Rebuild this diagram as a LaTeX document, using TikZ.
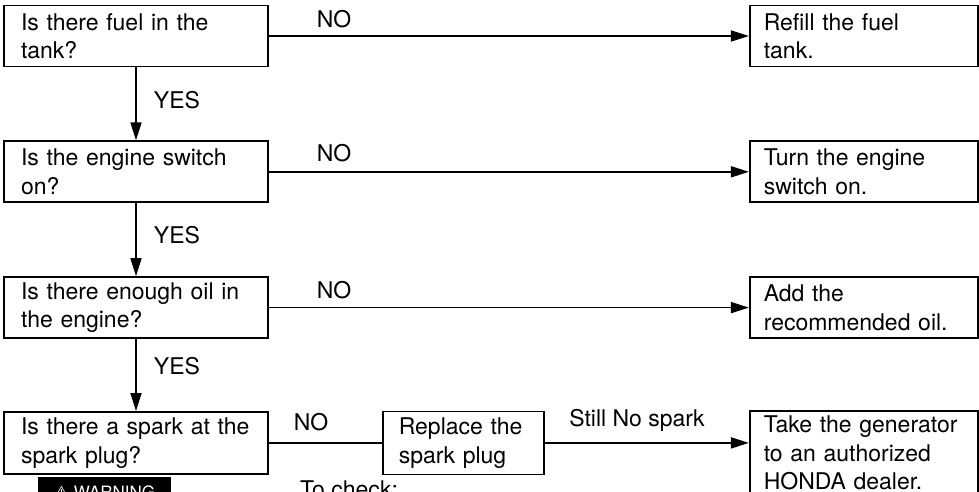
\documentclass[tikz,border=0pt]{standalone}
\usepackage{fontspec}
\setmainfont{TeX Gyre Heros}
\newfontfamily\symfont{DejaVu Sans}
\usetikzlibrary{arrows.meta, positioning}
\tikzset{
  % Question boxes (left column)
  qbox/.style={
    draw, line width=1.8pt,
    align=left, text width=230pt, inner xsep=17pt, inner ysep=0pt,
    minimum height=61pt,
  },
  % Action boxes (right column)
  abox/.style={
    draw, line width=1.8pt,
    align=left, text width=200pt, inner xsep=14pt, inner ysep=0pt,
    minimum height=61pt,
  },
  % Middle box of the last row
  mbox/.style={
    draw, line width=1.8pt,
    align=left, text width=129pt, inner xsep=16pt, inner ysep=0pt,
    minimum height=63pt,
  },
  % Connector labels
  lbl/.style={inner sep=0pt},
  % Arrows
  arr/.style={-{Triangle[length=18pt,width=11pt]}, line width=1.7pt},
  line/.style={line width=1.7pt},
  % Warning badge
  badge/.style={
    fill=black, text=white, inner sep=0pt,
    minimum width=133pt, minimum height=30pt,
    font=\fontsize{17}{20}\selectfont,
  },
}

\begin{document}
\begin{tikzpicture}[x=1pt, y=-1pt, font=\fontsize{23}{28.5}\selectfont]

\clip (0,0) rectangle (979,491);

%% ---------------------------------------------------------------
%% LEFT COLUMN - questions
%% ---------------------------------------------------------------

\node[qbox] (q1) at (136,36) {Is there fuel in the\\tank?};
\node[qbox, below=73pt of q1] (q2) {Is the engine switch\\on?};
\node[qbox, below=73pt of q2] (q3) {Is there enough oil in\\the engine?};
\node[qbox, below=72pt of q3, minimum height=62pt] (q4) {Is there a spark at the\\spark plug?};

%% ---------------------------------------------------------------
%% RIGHT COLUMN - remedies
%% ---------------------------------------------------------------

\node[abox, right=480pt of q1] (r1) {Refill the fuel\\tank.};
\node[abox, right=480pt of q2] (r2) {Turn the engine\\switch on.};
\node[abox, right=480pt of q3] (r3) {Add the\\recommended oil.};
\node[abox, below=71pt of r3, minimum height=84pt] (r4)
  {Take the generator\\to an authorized\\HONDA dealer.};

% Spark plug step between q4 and r4
\node[mbox, right=113pt of q4] (plug) {Replace the\\spark plug};

%% ---------------------------------------------------------------
%% CONNECTORS
%% ---------------------------------------------------------------

\draw[arr] (q1) -- (q2);
\draw[arr] (q2) -- (q3);
\draw[arr] (q3) -- (q4);

\draw[arr] (q1) -- (r1);
\draw[arr] (q2) -- (r2);
\draw[arr] (q3) -- (r3);
\draw[line] (q4) -- (plug);
\draw[arr] (plug.east) -- (plug.east -| r4.west);

% Labels
\node[lbl] (yes1) at (177,100) {YES};
\node[lbl] (yes2) at (177,235) {YES};
\node[lbl] (yes3) at (177,366) {YES};
\node[lbl] (no1) at (334,19) {NO};
\node[lbl] (no2) at (334,153) {NO};
\node[lbl] (no3) at (334,290) {NO};
\node[lbl] (no4) at (311,422) {NO};
\node[lbl] (still) at (637,420) {Still No spark};

%% ---------------------------------------------------------------
%% BOTTOM - warning note (cut at page edge)
%% ---------------------------------------------------------------

\node[badge] (warn) at (104.5,492) {{\symfont ⚠} WARNING};
\node[lbl, anchor=base west] (check) at (300,497) {To check:};

\end{tikzpicture}
\end{document}
